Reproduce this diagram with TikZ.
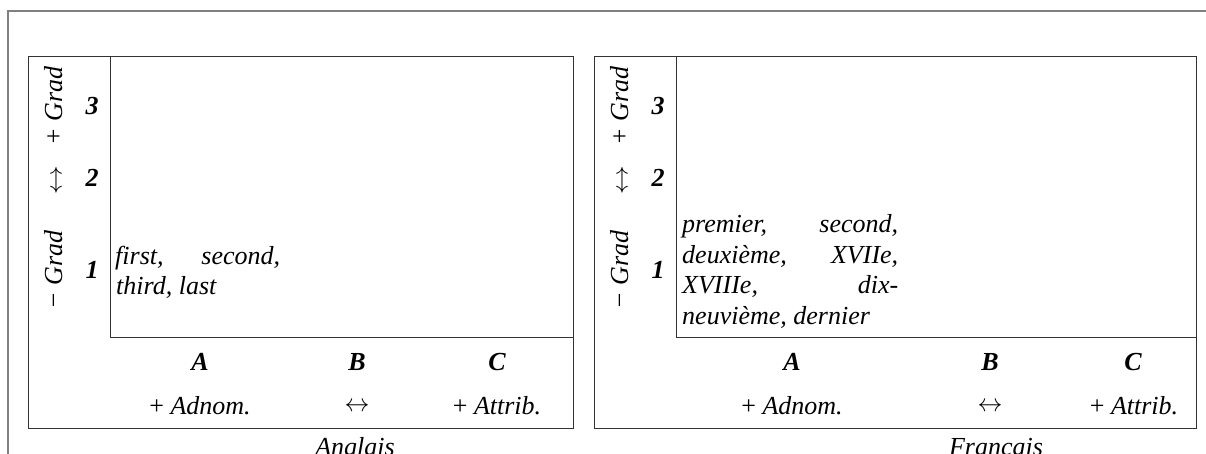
\documentclass[tikz,border=0pt]{standalone}
\usepackage{fontspec}
\setmainfont{Liberation Serif}
\begin{document}
\begin{tikzpicture}[x=1pt,y=-1pt,
  frame/.style={draw=black!50, line width=1.4pt},
  panel/.style={draw=black!80, line width=1pt},
  lbl/.style={font=\fontsize{26}{31}\selectfont\itshape, inner sep=0pt},
  num/.style={font=\fontsize{26}{31}\selectfont\bfseries\itshape, inner sep=0pt},
  sym/.style={font=\fontsize{26}{31}\selectfont, inner sep=0pt}]
\useasboundingbox (0,0) rectangle (1206,454);
% outer frame
\coordinate (ftl) at (8,11);
\coordinate (ftr) at (1206,11);
\coordinate (fbl) at (8,454);
\draw[frame] (ftr) -- (ftl) -- (fbl);

% ---------- left panel (Anglais) ----------
\coordinate (L1) at (28,57);
\coordinate (L2) at (573,428);
\coordinate (Li1) at (110,57);
\coordinate (Li2) at (110,337);
\coordinate (Li3) at (573,337);
\draw[panel] (L1) rectangle (L2);
\draw[panel] (Li1) -- (Li2) -- (Li3);
\node[lbl, rotate=90, anchor=base] (Lpg) at (62,106) {+ Grad};
\node[sym] (Lud) at (56,180) {$\updownarrow$};
\node[lbl, rotate=90, anchor=base] (Lmg) at (62,270) {− Grad};
\node[num, anchor=base] (L3) at (92,115) {3};
\node[num, anchor=base] (L2n) at (92,187) {2};
\node[num, anchor=base] (L1n) at (92,278) {1};
\node[lbl, anchor=base west] (Lt1) at (115,264) {\hbox to 165pt{first,\hfill second,}};
\node[lbl, anchor=base west] (Lt2) at (116,294) {third, last};
\node[num, anchor=base] (LA) at (200,370) {A};
\node[num, anchor=base] (LB) at (357,370) {B};
\node[num, anchor=base] (LC) at (497,370) {C};
\node[lbl, anchor=base] (LAd) at (200,414) {\upshape+ \itshape Adnom.};
\node[sym] (LBd) at (357,407) {$\leftrightarrow$};
\node[lbl, anchor=base] (LAt) at (497,414) {\upshape+ \itshape Attrib.};
\node[lbl, anchor=base] (Lcap) at (355,455) {Anglais};

% ---------- right panel (Francais) ----------
\coordinate (R1) at (594,57);
\coordinate (R2) at (1196,428);
\coordinate (Ri1) at (676,57);
\coordinate (Ri2) at (676,337);
\coordinate (Ri3) at (1196,337);
\draw[panel] (R1) rectangle (R2);
\draw[panel] (Ri1) -- (Ri2) -- (Ri3);
\node[lbl, rotate=90, anchor=base] (Rpg) at (628,106) {+ Grad};
\node[sym] (Rud) at (622,180) {$\updownarrow$};
\node[lbl, rotate=90, anchor=base] (Rmg) at (628,270) {− Grad};
\node[num, anchor=base] (R3) at (658,115) {3};
\node[num, anchor=base] (R2n) at (658,187) {2};
\node[num, anchor=base] (R1n) at (658,278) {1};
\node[lbl, anchor=base west] (Rt1) at (682,232.5) {\hbox to 216pt{premier,\hfill second,}};
\node[lbl, anchor=base west] (Rt2) at (682,263) {\hbox to 216pt{deuxième,\hfill XVIIe,}};
\node[lbl, anchor=base west] (Rt3) at (682,293.5) {\hbox to 216pt{XVIIIe,\hfill dix-}};
\node[lbl, anchor=base west] (Rt4) at (682,324) {neuvième, dernier};
\node[num, anchor=base] (RA) at (792,370) {A};
\node[num, anchor=base] (RB) at (990,370) {B};
\node[num, anchor=base] (RC) at (1133,370) {C};
\node[lbl, anchor=base] (RAd) at (792,414) {\upshape+ \itshape Adnom.};
\node[sym] (RBd) at (990,407) {$\leftrightarrow$};
\node[lbl, anchor=base] (RAt) at (1134,414) {\upshape+ \itshape Attrib.};
\node[lbl, anchor=base] (Rcap) at (996,455) {Francais};
\end{tikzpicture}
\end{document}
